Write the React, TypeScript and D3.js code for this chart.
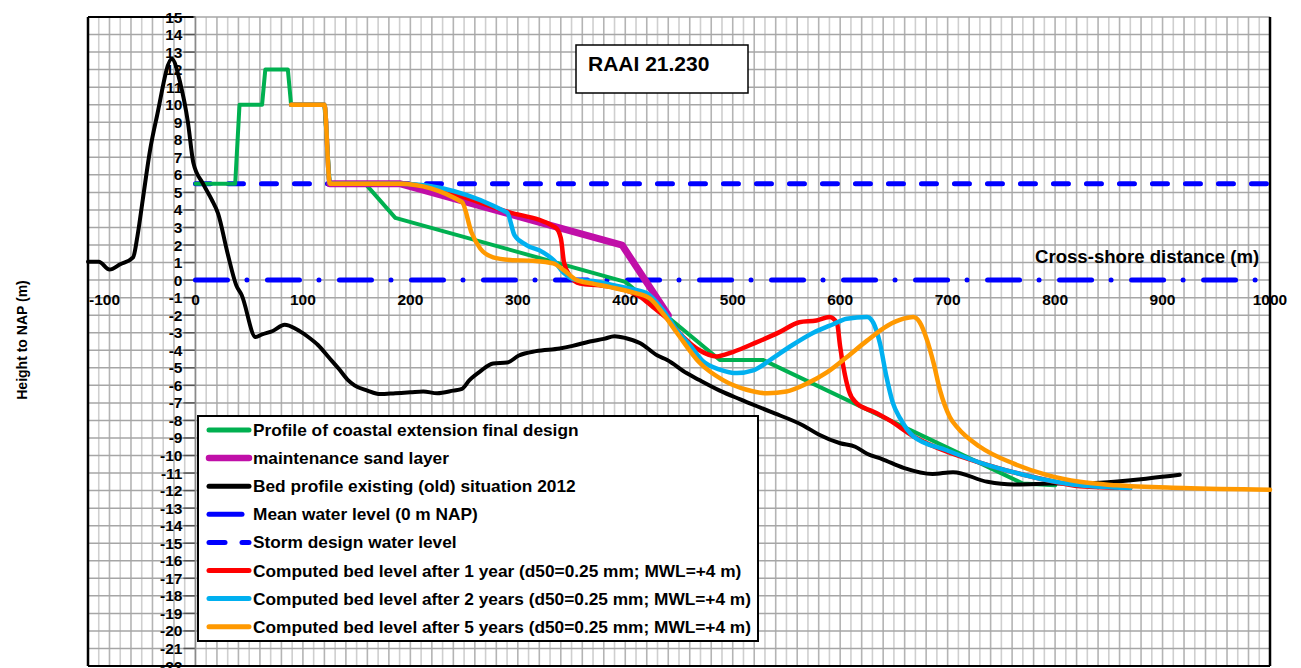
import React from 'react';
import * as d3 from 'd3';

type Pt = [number, number];

const xTickValues: number[] = [-100, 0, 100, 200, 300, 400, 500, 600, 700, 800, 900, 1000];
const yTickValues: number[] = d3.range(15, -23, -1);

const designProfile: Pt[] = [
  [0, 5.5], [37, 5.5], [41, 10], [62, 10], [65, 12], [86, 12], [89, 10], [120, 10], [125, 5.5],
  [158, 5.5], [186, 3.55], [400, -0.1], [488, -4.55], [528, -4.55], [770, -11.6], [800, -11.7],
];

const sandLayer: Pt[] = [[125, 5.5], [190, 5.5], [397, 2.0], [440, -2.0]];

const bedProfile2012: Pt[] = [
  [-100, 1.05], [-90, 1.05], [-80, 0.6], [-70, 0.9], [-58, 1.3], [-54, 2.5], [-49, 4.6], [-42, 7.5],
  [-36, 9.3], [-22, 12.6], [-14, 11.2], [-7, 9.0], [-2, 6.7], [7, 5.5], [15, 4.6], [21, 3.8],
  [30, 1.5], [38, -0.3], [43, -0.85], [56, -3.25], [62, -3.1], [72, -2.9], [83, -2.55], [94, -2.8],
  [104, -3.2], [114, -3.7], [124, -4.4], [134, -5.1], [142, -5.7], [148, -6.0], [160, -6.3],
  [172, -6.5], [186, -6.45], [200, -6.4], [212, -6.35], [225, -6.45], [240, -6.3], [248, -6.2],
  [255, -5.7], [265, -5.2], [277, -4.75], [290, -4.7], [301, -4.3], [317, -4.05], [339, -3.9],
  [351, -3.75], [367, -3.5], [380, -3.35], [390, -3.2], [400, -3.3], [414, -3.6], [430, -4.3],
  [439, -4.55], [457, -5.3], [469, -5.7], [488, -6.3], [507, -6.8], [535, -7.5], [566, -8.3],
  [580, -8.8], [600, -9.3], [614, -9.5], [625, -9.9], [639, -10.2], [659, -10.7], [686, -11.05],
  [705, -10.95], [737, -11.5], [761, -11.65], [795, -11.6], [842, -11.55], [888, -11.3], [916, -11.1],
];

const bedAfter1Year: Pt[] = [
  [89, 10], [120, 10], [125, 5.5], [190, 5.5], [290, 3.9], [335, 3.0], [340, 2.4], [343, 1.0],
  [348, 0.3], [358, -0.2], [376, -0.3], [392, -0.45], [414, -0.95], [426, -1.55], [439, -2.2],
  [454, -3.25], [469, -4.0], [485, -4.35], [500, -4.1], [522, -3.55], [544, -2.95], [562, -2.4],
  [578, -2.3], [590, -2.1], [597, -2.45], [600, -3.8], [603, -4.95], [608, -6.3], [615, -7.0],
  [631, -7.5], [646, -8.0], [668, -8.9], [700, -9.8], [730, -10.4], [761, -10.95], [792, -11.4],
  [823, -11.75], [870, -11.85],
];

const bedAfter2Years: Pt[] = [
  [89, 10], [120, 10], [125, 5.5], [190, 5.5], [290, 3.85], [297, 2.55], [308, 2.0], [323, 1.6],
  [333, 1.15], [343, 0.4], [355, 0], [370, -0.05], [383, -0.2], [401, -0.45], [420, -0.75],
  [435, -1.7], [448, -2.85], [460, -3.7], [472, -4.6], [488, -5.1], [504, -5.3], [519, -5.15],
  [535, -4.55], [553, -3.8], [575, -3.0], [594, -2.5], [606, -2.2], [625, -2.1], [631, -2.45],
  [637, -3.6], [643, -5.5], [649, -7.0], [656, -7.9], [668, -8.9], [699, -9.7], [730, -10.4],
  [761, -10.95], [792, -11.4], [823, -11.7], [870, -11.85],
];

const bedAfter5Years: Pt[] = [
  [89, 10], [120, 10], [125, 5.5], [190, 5.5], [248, 4.45], [257, 2.7], [265, 1.8], [277, 1.3],
  [293, 1.15], [314, 1.1], [333, 0.95], [343, 0.55], [355, 0], [370, -0.2], [386, -0.4],
  [407, -0.7], [423, -1.05], [435, -1.9], [448, -3.0], [469, -4.7], [491, -5.7], [513, -6.25],
  [532, -6.45], [550, -6.35], [569, -5.9], [588, -5.25], [606, -4.4], [625, -3.45], [644, -2.6],
  [659, -2.2], [668, -2.1], [674, -2.4], [681, -3.45], [687, -4.75], [693, -6.3], [702, -7.8],
  [709, -8.4], [730, -9.5], [761, -10.45], [792, -11.1], [823, -11.5], [857, -11.7], [919, -11.85],
  [1000, -11.95],
];

const meanWaterLevel: Pt[] = [[0, 0], [1000, 0]];
const stormWaterLevel: Pt[] = [[0, 5.5], [1000, 5.5]];

const legendLabels: string[] = [
  'Profile of coastal extension final design',
  'maintenance sand layer',
  'Bed profile existing (old) situation 2012',
  'Mean water level (0 m NAP)',
  'Storm design water level',
  'Computed bed level after 1 year (d50=0.25 mm; MWL=+4 m)',
  'Computed bed level after 2 years (d50=0.25 mm; MWL=+4 m)',
  'Computed bed level after 5 years (d50=0.25 mm; MWL=+4 m)',
];
const seriesColors: string[] = ['#00B050', '#C00FA8', '#000000', '#0000FF', '#0000FF', '#FF0000', '#00B0F0', '#FF9900'];

const FONT = "'Liberation Sans', Arial, sans-serif";

export default function App() {
  const left = 88, right = 1270, top = 17, bottom = 666;
  const x = d3.scaleLinear().domain([-100, 1000]).range([left, right]);
  const y = d3.scaleLinear().domain([-22, 15]).range([bottom, top]);

  const linear = d3.line<Pt>().x(d => x(d[0])).y(d => y(d[1]));
  const smooth = d3.line<Pt>().x(d => x(d[0])).y(d => y(d[1])).curve(d3.curveMonotoneX);

  const vGrid = d3.range(-100, 1001, 10);
  const hGrid = d3.range(-22, 16, 1);

  const series = [
    { data: designProfile, color: seriesColors[0], w: 4, gen: linear },
    { data: sandLayer, color: seriesColors[1], w: 7, gen: linear },
    { data: bedProfile2012, color: seriesColors[2], w: 4, gen: smooth },
    { data: bedAfter1Year, color: seriesColors[5], w: 4.5, gen: smooth },
    { data: bedAfter2Years, color: seriesColors[6], w: 4.5, gen: smooth },
    { data: bedAfter5Years, color: seriesColors[7], w: 4.5, gen: smooth },
  ];

  const legX = 198, legY = 416, legW = 560, legH = 225;
  const rowY = (i: number) => 430 + i * 28.1;

  return (
    <svg width={1301} height={668} style={{ position: 'fixed', left: 0, top: 0, background: '#fff' }}
      fontFamily={FONT}>
      <rect x={0} y={0} width={1301} height={668} fill="#fff" />
      {vGrid.map(v => (
        <line key={'v' + v} x1={x(v)} x2={x(v)} y1={top} y2={bottom}
          stroke={v % 20 === 0 ? '#b4b4b4' : '#cfcfcf'} strokeWidth={1.6} />
      ))}
      {hGrid.map(v => (
        <line key={'h' + v} x1={left} x2={right} y1={y(v)} y2={y(v)} stroke="#a6a6a6" strokeWidth={1.5} />
      ))}
      {yTickValues.map(v => (
        <line key={'yt' + v} x1={x(0) - 12} x2={x(0)} y1={y(v)} y2={y(v)} stroke="#555" strokeWidth={1.5} />
      ))}
      <line x1={x(0)} x2={x(0)} y1={top} y2={bottom} stroke="#8a8a8a" strokeWidth={1.5} />
      <line x1={left} x2={x(0) - 2} y1={top} y2={top} stroke="#000" strokeWidth={2} />
      <line x1={left} x2={left} y1={top} y2={bottom} stroke="#000" strokeWidth={2.5} />
      <line x1={right} x2={right} y1={top} y2={bottom} stroke="#000" strokeWidth={2.5} />
      <line x1={left} x2={right} y1={bottom} y2={bottom} stroke="#000" strokeWidth={2} />

      {yTickValues.map(v => (
        <text key={'yl' + v} x={x(0) - 13} y={y(v) + 5.5} textAnchor="end" fontSize={15.5} fontWeight="bold">{v}</text>
      ))}
      {xTickValues.map((v, i) => (
        <text key={'xl' + v} x={i === 0 ? x(v) + 1 : x(v)} y={y(0) + 25} textAnchor={i === 0 ? 'start' : 'middle'}
          fontSize={15.5} fontWeight="bold">{v}</text>
      ))}

      <path d={linear(meanWaterLevel) || ''} fill="none" stroke={seriesColors[3]} strokeWidth={5}
        strokeLinecap="round" strokeDasharray="32 19.5 0.01 20.5" />
      <path d={linear(stormWaterLevel) || ''} fill="none" stroke={seriesColors[4]} strokeWidth={5}
        strokeLinecap="round" strokeDasharray="15 18" />

      {series.map((s, i) => (
        <path key={'s' + i} d={s.gen(s.data) || ''} fill="none" stroke={s.color} strokeWidth={s.w}
          strokeLinejoin="round" strokeLinecap="round" />
      ))}

      <text x={1035} y={263} fontSize={18.6} fontWeight="bold">Cross-shore distance (m)</text>
      <text transform="translate(27,340) rotate(-90)" textAnchor="middle" fontSize={14} fontWeight="bold">Height to NAP (m)</text>

      <rect x={576} y={45} width={172} height={48} fill="#fff" stroke="#000" strokeWidth={1.5} />
      <text x={588} y={71} fontSize={21} fontWeight="bold">RAAI 21.230</text>

      <rect x={legX} y={legY} width={legW} height={legH} fill="#fff" stroke="#000" strokeWidth={2} />
      {legendLabels.map((lab, i) => {
        const cy = rowY(i);
        const color = seriesColors[i];
        let sample;
        if (i === 4) {
          sample = (
            <g>
              <line x1={209} x2={225} y1={cy} y2={cy} stroke={color} strokeWidth={5} strokeLinecap="round" />
              <line x1={242} x2={249} y1={cy} y2={cy} stroke={color} strokeWidth={5} strokeLinecap="round" />
            </g>
          );
        } else if (i === 3) {
          sample = <line x1={209} x2={242} y1={cy} y2={cy} stroke={color} strokeWidth={5} strokeLinecap="round" />;
        } else {
          sample = <line x1={209} x2={249} y1={cy} y2={cy} stroke={color} strokeWidth={i === 1 ? 6.5 : 5} strokeLinecap="round" />;
        }
        return (
          <g key={'lg' + i}>
            {sample}
            <text x={253} y={cy + 6} fontSize={17.3} fontWeight="bold">{lab}</text>
          </g>
        );
      })}
    </svg>
  );
}
